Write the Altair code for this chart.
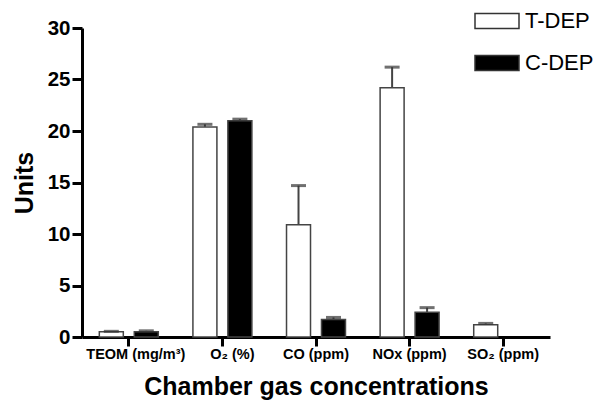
import altair as alt
import pandas as pd

categories = ["TEOM (mg/m³)", "O₂ (%)", "CO (ppm)", "NOx (ppm)", "SO₂ (ppm)"]
groups = ["T-DEP", "C-DEP"]
tdep_values = [0.5, 20.4, 10.9, 24.2, 1.2]
tdep_errors = [0.05, 0.25, 3.8, 2.0, 0.12]
cdep_values = [0.5, 21.0, 1.7, 2.4, 0.0]
cdep_errors = [0.1, 0.15, 0.2, 0.45, 0.0]

rows = []
for i, c in enumerate(categories):
    rows.append({"cat": c, "grp": "T-DEP", "val": tdep_values[i], "hi": tdep_values[i] + tdep_errors[i]})
    if cdep_values[i] > 0:
        rows.append({"cat": c, "grp": "C-DEP", "val": cdep_values[i], "hi": cdep_values[i] + cdep_errors[i]})
df = pd.DataFrame(rows)

font = "Liberation Sans"

x = alt.X("cat:N", sort=categories, title="Chamber gas concentrations",
          scale=alt.Scale(paddingInner=0.37, paddingOuter=0.185),
          axis=alt.Axis(labelAngle=0, labelAlign="center", bandPosition=0.5,
                        labelFontSize=14.5, labelFontWeight="bold", labelFont=font,
                        labelColor="black", labelPadding=8, tickSize=9, tickWidth=3, tickColor="black",
                        domainWidth=3, domainColor="black", titleFontSize=25, titleFont=font,
                        titleFontWeight="bold", titleColor="black", titlePadding=14,
                        labelOverlap=False,
                        labelOffset={"condition": [{"test": "datum.index == 0", "value": 7},
                                                   {"test": "datum.index == 0.25", "value": 10}],
                                     "value": 0}))
xo = alt.XOffset("grp:N", sort=groups, scale=alt.Scale(domain=groups, paddingInner=0.314, paddingOuter=0))
y = alt.Y("val:Q", title="Units",
          scale=alt.Scale(domain=[0, 30], nice=False),
          axis=alt.Axis(values=[0, 5, 10, 15, 20, 25, 30], grid=False, labelFontSize=20.5,
                        labelFontWeight="bold", labelFont=font, labelColor="black", labelPadding=2,
                        tickSize=10, tickWidth=3, tickColor="black", domainWidth=3, domainColor="black",
                        titleFontSize=25, titleFont=font, titleFontWeight="bold", titleColor="black",
                        titlePadding=10))

fill = alt.Fill("grp:N", sort=groups, scale=alt.Scale(domain=groups, range=["white", "black"]),
                legend=alt.Legend(title=None, orient="none", legendX=392, legendY=-30,
                                  symbolType="M-1,-0.34L1,-0.34L1,0.34L-1,0.34Z", symbolSize=1936,
                                  symbolStrokeColor="#333", symbolStrokeWidth=1.5, symbolOpacity=1,
                                  labelFontSize=22, labelFont=font, labelColor="black",
                                  rowPadding=8, labelOffset=5))

bars = alt.Chart(df).mark_bar(stroke="#444", strokeWidth=1.5).encode(x=x, xOffset=xo, y=y, fill=fill)

err = alt.Chart(df).mark_rule(color="#444", strokeWidth=2).encode(
    x=alt.X("cat:N", sort=categories), xOffset=alt.XOffset("grp:N", sort=groups),
    y="val:Q", y2="hi:Q")
cap = alt.Chart(df).mark_tick(color="#333", thickness=3, size=15, orient="horizontal").encode(
    x=alt.X("cat:N", sort=categories), xOffset=alt.XOffset("grp:N", sort=groups),
    y="hi:Q")

chart = alt.layer(err, bars, cap).properties(
    width=468, height=309, autosize=alt.AutoSizeParams(type="none"),
    padding={"left": 74, "top": 20, "right": 52, "bottom": 70}
).configure_view(stroke=None)

chart.save("out.html", embed_options={"renderer": "svg", "actions": False})
